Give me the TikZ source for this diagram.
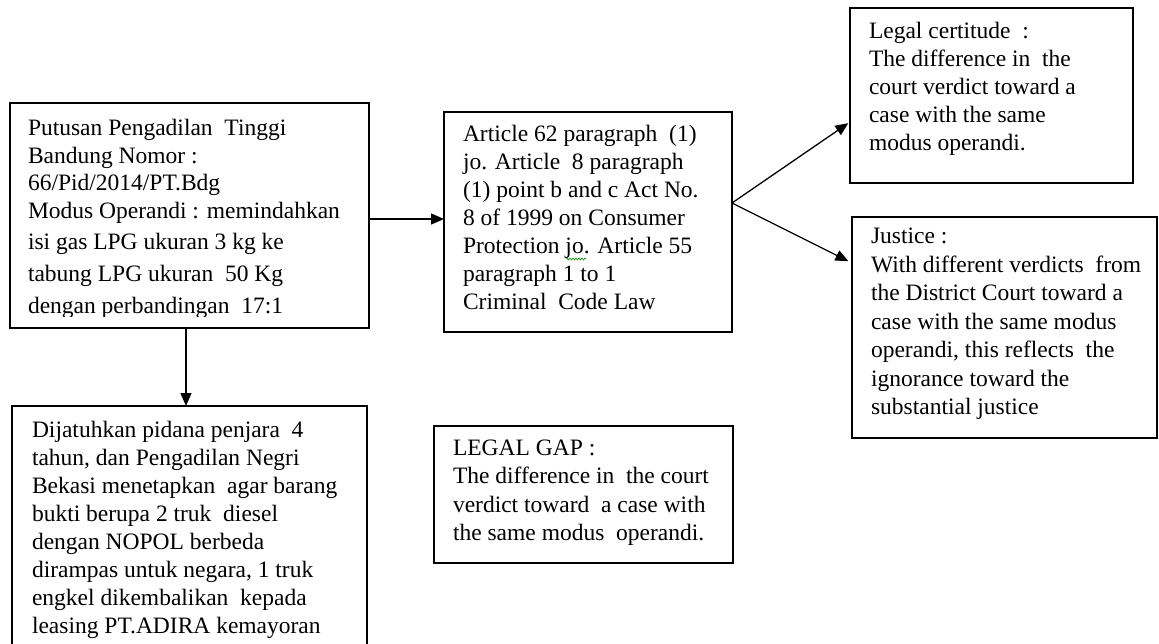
\documentclass[tikz,border=0pt]{standalone}
\usepackage{fontspec}
\setmainfont{Liberation Serif}
\usetikzlibrary{arrows.meta,decorations.pathmorphing,calc}
\newcommand{\tlines}[1]{\begin{tabular}[t]{@{}l@{}}#1\end{tabular}}
\begin{document}
\begin{tikzpicture}[x=1pt,y=-1pt,
  box/.style={draw=black,line width=1.4pt,inner sep=0pt,outer sep=0pt,anchor=north west},
  txt/.style={anchor=base west,inner sep=0pt,outer sep=0pt},
  arr/.style={draw=black,line width=1.3pt,-{Triangle[length=13pt,width=11pt]}}]
\useasboundingbox (0,0) rectangle (1159,644);
\clip (0,0) rectangle (1159,644);

% boxes
\node[box,minimum width=359pt,minimum height=225pt] (a) at (10,103) {};
\node[box,minimum width=288pt,minimum height=220pt] (b) at (444,112) {};
\node[box,minimum width=283pt,minimum height=175pt] (c) at (850,8) {};
\node[box,minimum width=305pt,minimum height=221pt] (d) at (852,217) {};
\node[box,minimum width=355pt,minimum height=254pt] (e) at (12,406) {};
\node[box,minimum width=299pt,minimum height=137pt] (f) at (434,426) {};

% texts
\begin{scope}
\clip (10,103) rectangle (369,316);
\node[txt,font=\fontsize{23.5}{27.5}\selectfont] (ta) at (28,136) {\tlines{%
Putusan Pengadilan\ \ Tinggi\\
Bandung Nomor :\\
66/Pid/2014/PT.Bdg\\
Modus Operandi : memindahkan\\[3.5pt]
isi gas LPG ukuran 3 kg ke\\[4.5pt]
tabung LPG ukuran\ \ 50 Kg\\[4.5pt]
dengan perbandingan\ \ 17:1}};
\end{scope}

\node[txt,font=\fontsize{23.5}{28}\selectfont] (tb) at (463,142) {\tlines{%
Article 62 paragraph\ \ (1)\\
jo. Article\ \ 8 paragraph\\
(1) point b and c Act No.\\
8 of 1999 on Consumer\\
Protection jo. Article 55\\
paragraph 1 to 1\\
Criminal\ \ Code Law}};

\node[txt,font=\fontsize{23.5}{28}\selectfont] (tc) at (869,39) {\tlines{%
Legal certitude\ \ :\\
The difference in\ \ the\\
court verdict toward a\\
case with the same\\
modus operandi.}};

\node[txt,font=\fontsize{23.5}{28.5}\selectfont] (td) at (871,244) {\tlines{%
Justice :\\
With different verdicts\ \ from\\
the District Court toward a\\
case with the same modus\\
operandi, this reflects\ \ the\\
ignorance toward the\\
substantial justice}};

\node[txt,font=\fontsize{23.5}{28}\selectfont] (te) at (32,437) {\tlines{%
Dijatuhkan pidana penjara\ \ 4\\
tahun, dan Pengadilan Negri\\
Bekasi menetapkan\ \ agar barang\\
bukti berupa 2 truk\ \ diesel\\
dengan NOPOL berbeda\\
dirampas untuk negara, 1 truk\\
engkel dikembalikan\ \ kepada\\
leasing PT.ADIRA kemayoran}};

\node[txt,font=\fontsize{23.5}{28.5}\selectfont] (tf) at (453,455) {\tlines{%
LEGAL GAP :\\
The difference in\ \ the court\\
verdict toward\ \ a case with\\
the same modus\ \ operandi.}};

% spell-check squiggle under "jo"
\draw[green!55!black,line width=0.6pt,decorate,decoration={snake,amplitude=1pt,segment length=3pt}] (566,259) -- (586,259);

% connectors
\coordinate (yab) at (0,219);
\coordinate (ybr) at (0,203);
\coordinate (yc) at (0,122);
\coordinate (yd) at (0,263);
\coordinate (xae) at (186,0);
\draw[arr] (a.east |- yab) -- (b.west |- yab);
\draw[arr,shorten >=2pt] (b.east |- ybr) -- (c.west |- yc);
\draw[arr,shorten >=4pt] (b.east |- ybr) -- (d.west |- yd);
\draw[arr] (a.south -| xae) -- (e.north -| xae);
\end{tikzpicture}
\end{document}
